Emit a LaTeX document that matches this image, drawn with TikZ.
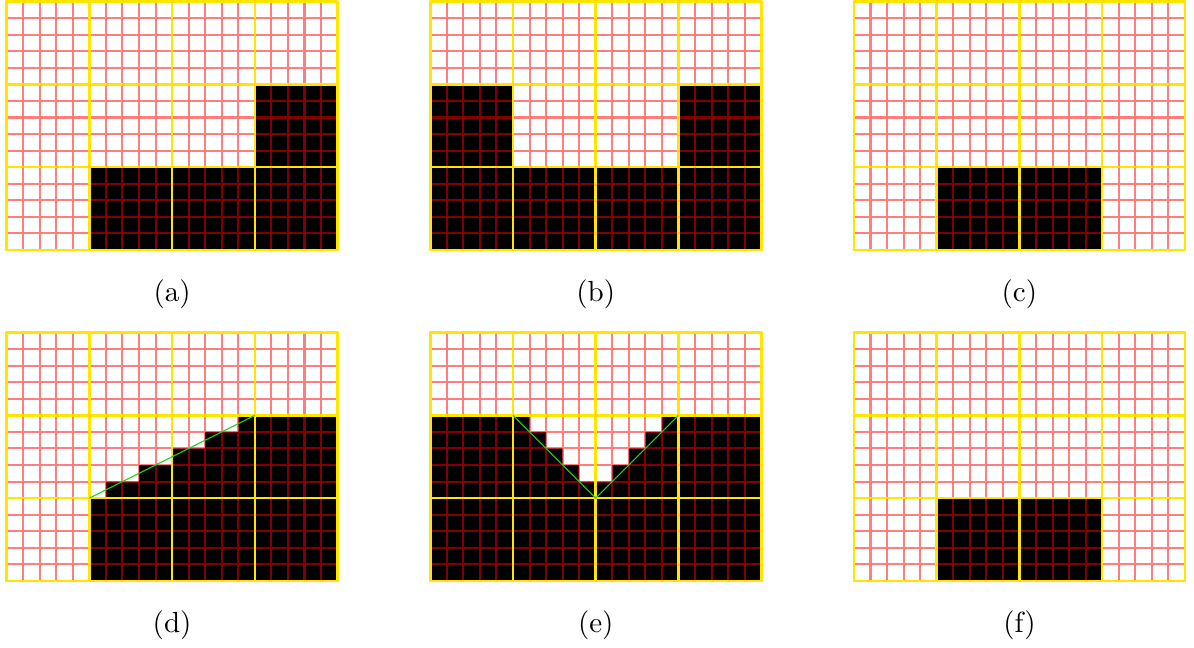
\documentclass[tikz,border=0pt]{standalone}
\usepackage{xcolor}
\usepackage{tikz}

\definecolor{blockyellow}{RGB}{255,230,0}
\definecolor{cutgreen}{RGB}{30,210,30}

\begin{document}
\begin{tikzpicture}[x=0.2cm, y=0.2cm,
  cell/.style={fill=black},
  finegrid/.style={draw=red, draw opacity=0.5, line width=0.7pt},
  blockgrid/.style={draw=blockyellow, line width=0.9pt, line cap=round, line join=round},
  cutline/.style={draw=cutgreen, line width=0.4pt},
  sublabel/.style={anchor=base, font=\normalsize}]
\useasboundingbox (0,0) rectangle (72.15,39.15);

% --- Row 1: black cells ---
% (a)
\begin{scope}[shift={(0.4,24.05)}]
  \fill[cell] (5,0) rectangle (20,5) (15,5) rectangle (20,10);
\end{scope}
% (b)
\begin{scope}[shift={(26.0,24.05)}]
  \fill[cell] (0,0) rectangle (20,5) (0,5) rectangle (5,10) (15,5) rectangle (20,10);
\end{scope}
% (c)
\begin{scope}[shift={(51.6,24.05)}]
  \fill[cell] (5,0) rectangle (15,5);
\end{scope}

% --- Row 2: black cells ---
% (d) staircase under the cut
\begin{scope}[shift={(0.4,4.05)}]
  \fill[cell] (5,0) rectangle (20,5);
  \fill[cell] (6,5) -- (20,5) -- (20,10) -- (14,10) -- (14,9) -- (12,9) -- (12,8)
    -- (10,8) -- (10,7) -- (8,7) -- (8,6) -- (6,6) -- cycle;
\end{scope}
% (e) notch above the V
\begin{scope}[shift={(26.0,4.05)}]
  \fill[cell] (0,0) -- (20,0) -- (20,10) -- (14,10) -- (14,9) -- (13,9) -- (13,8)
    -- (12,8) -- (12,7) -- (11,7) -- (11,6) -- (9,6) -- (9,7) -- (8,7) -- (8,8)
    -- (7,8) -- (7,9) -- (6,9) -- (6,10) -- (0,10) -- cycle;
\end{scope}
% (f)
\begin{scope}[shift={(51.6,4.05)}]
  \fill[cell] (5,0) rectangle (15,5);
\end{scope}

% --- Grids: fine cells and 5x5 blocks ---
\foreach \px/\py in {0.4/24.05, 26.0/24.05, 51.6/24.05, 0.4/4.05, 26.0/4.05, 51.6/4.05} {
  \begin{scope}[shift={(\px,\py)}]
    \draw[finegrid] (0,0) grid[step=1] (20,15);
    \draw[blockgrid] (0,0) grid[step=5] (20,15);
    \draw[blockgrid] (0,0) rectangle (20,15);
  \end{scope}
}

% --- Cut lines ---
\begin{scope}[shift={(0.4,4.05)}]
  \draw[cutline] (5,5) -- (15,10);
\end{scope}
\begin{scope}[shift={(26.0,4.05)}]
  \draw[cutline] (5,10) -- (10,5) -- (15,10);
\end{scope}

% --- Sub-labels ---
\node[sublabel] (lbla) at (10.4,20.96) {(a)};
\node[sublabel] (lblb) at (36.0,20.96) {(b)};
\node[sublabel] (lblc) at (61.6,20.96) {(c)};
\node[sublabel] (lbld) at (10.4,0.96) {(d)};
\node[sublabel] (lble) at (36.0,0.96) {(e)};
\node[sublabel] (lblf) at (61.6,0.96) {(f)};
\end{tikzpicture}
\end{document}
